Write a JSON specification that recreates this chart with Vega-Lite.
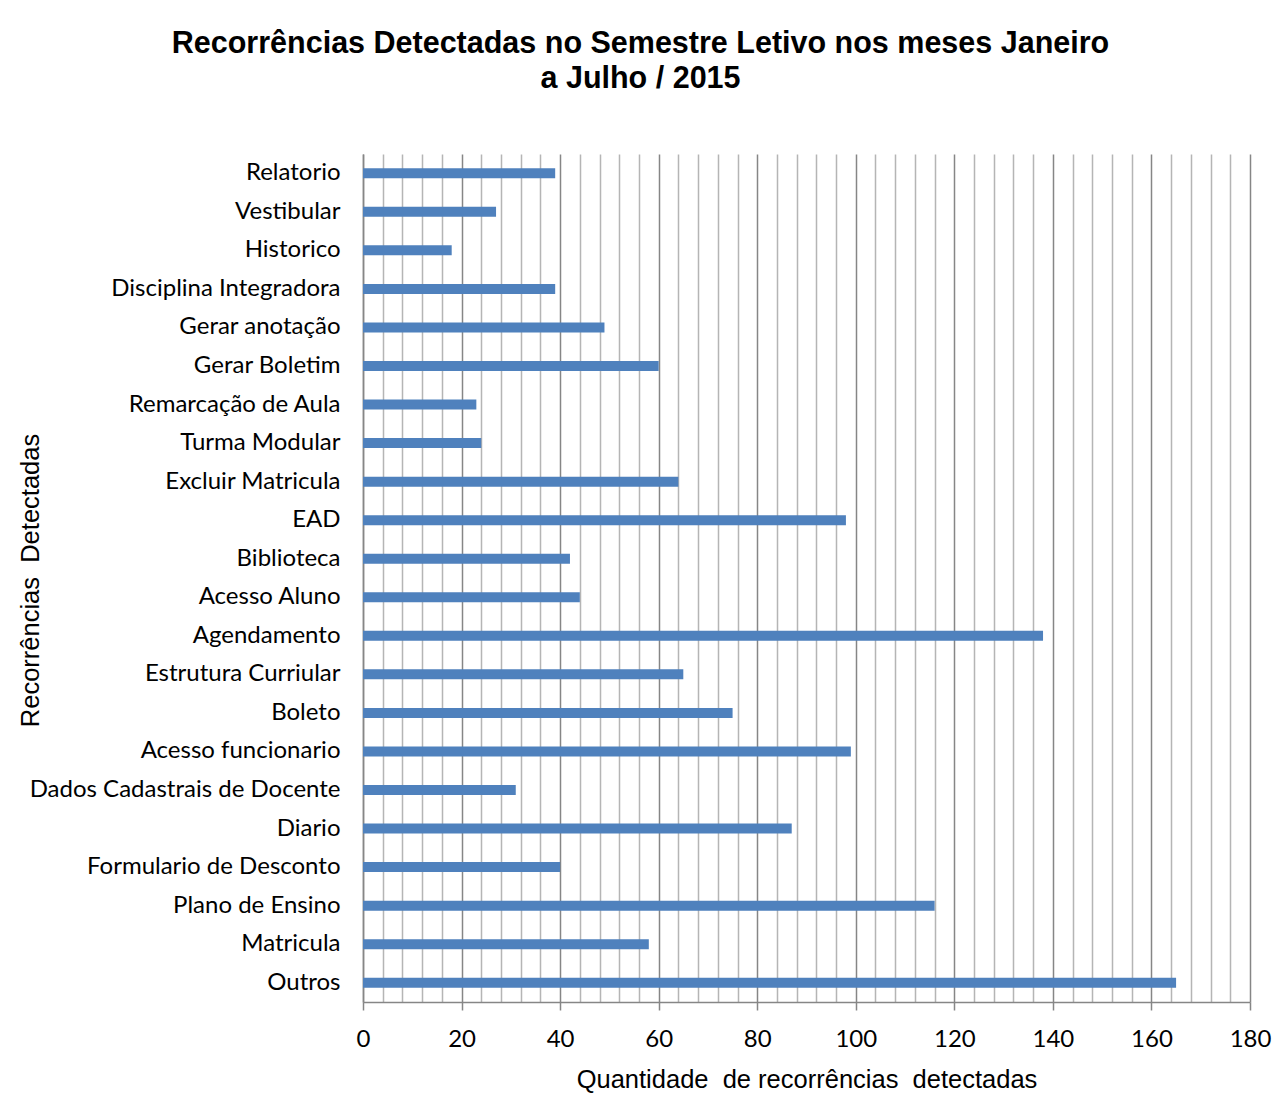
{
  "$schema": "https://vega.github.io/schema/vega-lite/v6.json",
  "autosize": {"type": "none"},
  "padding": {"left": 363, "top": 154, "right": 27, "bottom": 91},
  "width": 887,
  "height": 848,
  "background": "white",
  "title": {
    "text": ["Recorrências Detectadas no Semestre Letivo nos meses Janeiro", "a Julho / 2015"],
    "font": "Liberation Sans",
    "fontSize": 30.5,
    "fontWeight": "bold",
    "color": "#000000",
    "anchor": "middle",
    "frame": "group",
    "dx": -166,
    "lineHeight": 35,
    "offset": 60
  },
  "data": {
    "values": [
      {"categoria": "Relatorio", "quantidade": 39},
      {"categoria": "Vestibular", "quantidade": 27},
      {"categoria": "Historico", "quantidade": 18},
      {"categoria": "Disciplina Integradora", "quantidade": 39},
      {"categoria": "Gerar anotação", "quantidade": 49},
      {"categoria": "Gerar Boletim", "quantidade": 60},
      {"categoria": "Remarcação de Aula", "quantidade": 23},
      {"categoria": "Turma Modular", "quantidade": 24},
      {"categoria": "Excluir Matricula", "quantidade": 64},
      {"categoria": "EAD", "quantidade": 98},
      {"categoria": "Biblioteca", "quantidade": 42},
      {"categoria": "Acesso Aluno", "quantidade": 44},
      {"categoria": "Agendamento", "quantidade": 138},
      {"categoria": "Estrutura Curriular", "quantidade": 65},
      {"categoria": "Boleto", "quantidade": 75},
      {"categoria": "Acesso funcionario", "quantidade": 99},
      {"categoria": "Dados Cadastrais de Docente", "quantidade": 31},
      {"categoria": "Diario", "quantidade": 87},
      {"categoria": "Formulario de Desconto", "quantidade": 40},
      {"categoria": "Plano de Ensino", "quantidade": 116},
      {"categoria": "Matricula", "quantidade": 58},
      {"categoria": "Outros", "quantidade": 165}
    ]
  },
  "mark": {"type": "bar", "color": "#4f81bd", "size": 10},
  "encoding": {
    "y": {
      "field": "categoria",
      "type": "nominal",
      "sort": null,
      "scale": {"paddingInner": 0, "paddingOuter": 0},
      "axis": {
        "title": "Recorrências\u00a0 Detectadas",
        "titleFont": "Liberation Sans",
        "titleFontSize": 25.5,
        "titleFontWeight": "normal",
        "titleColor": "#000000",
        "titleX": -325,
        "titleY": 426,
        "titleAngle": 270,
        "titleAlign": "center",
        "titleBaseline": "alphabetic",
        "labelFont": "Lato",
        "labelFontSize": 24,
        "labelColor": "#000000",
        "labelPadding": 23,
        "labelLimit": 400,
        "ticks": false,
        "grid": false,
        "domainColor": "#868686",
        "domainWidth": 1.5
      }
    },
    "x": {
      "field": "quantidade",
      "type": "quantitative",
      "scale": {"domain": [0, 180], "nice": false},
      "axis": {
        "title": "Quantidade\u00a0 de recorrências\u00a0 detectadas",
        "titleFont": "Liberation Sans",
        "titleFontSize": 25.5,
        "titleFontWeight": "normal",
        "titleColor": "#000000",
        "titleY": 85,
        "titleBaseline": "alphabetic",
        "values": [0, 4, 8, 12, 16, 20, 24, 28, 32, 36, 40, 44, 48, 52, 56, 60, 64, 68, 72, 76, 80, 84, 88, 92, 96, 100, 104, 108, 112, 116, 120, 124, 128, 132, 136, 140, 144, 148, 152, 156, 160, 164, 168, 172, 176, 180],
        "labelExpr": "datum.value % 20 === 0 ? datum.label : ''",
        "labelFont": "Lato",
        "labelFontSize": 24,
        "labelColor": "#000000",
        "labelBaseline": "alphabetic",
        "labelPadding": 36,
        "labelOverlap": false,
        "labelFlush": false,
        "tickSize": 8,
        "tickColor": "#868686",
        "tickWidth": 1.5,
        "tickOpacity": {"condition": {"test": "datum.value % 20 === 0", "value": 1}, "value": 0},
        "grid": true,
        "gridColor": {"condition": {"test": "datum.value % 20 === 0", "value": "#868686"}, "value": "#b5b5b5"},
        "gridWidth": 1.5,
        "gridOpacity": 1,
        "domainColor": "#868686",
        "domainWidth": 1.5
      }
    }
  },
  "config": {"view": {"stroke": null}}
}
